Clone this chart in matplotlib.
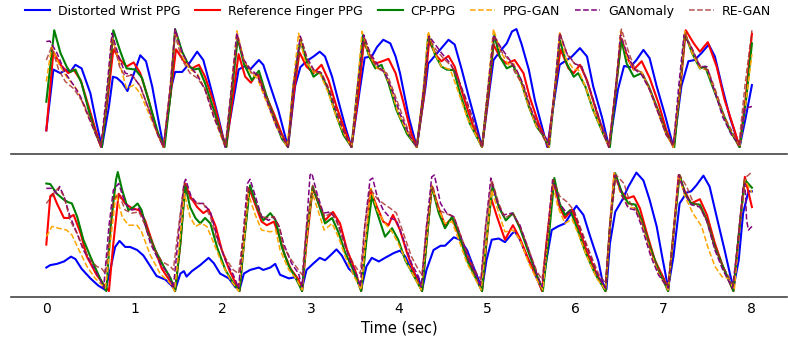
#!/usr/bin/env python3
"""
PPG reconstruction comparison: two wrist segments, 8 s each
"""

import matplotlib
matplotlib.use("Agg")
import matplotlib.pyplot as plt
import numpy as np

plt.rcParams['font.family'] = 'DejaVu Sans'

# (time in sec, normalised amplitude)
# ---- upper segment ----
wrist_top = [
    (0.00, 0.14), (0.08, 0.65), (0.16, 0.62), (0.22, 0.65), (0.27, 0.63), (0.33, 0.69), (0.40, 0.66), (0.50, 0.45), (0.56, 0.23), (0.63, 0.00),
    (0.71, 0.34), (0.755, 0.59), (0.80, 0.58), (0.86, 0.54), (0.92, 0.47), (1.01, 0.65), (1.065, 0.77), (1.13, 0.72), (1.20, 0.51), (1.27, 0.23), (1.33, 0.00),
    (1.42, 0.51), (1.46, 0.63), (1.54, 0.63), (1.61, 0.69), (1.71, 0.80), (1.78, 0.73), (1.86, 0.51), (1.95, 0.25), (2.03, 0.00),
    (2.12, 0.39), (2.18, 0.65), (2.25, 0.68), (2.31, 0.65), (2.41, 0.73), (2.46, 0.69), (2.54, 0.51), (2.63, 0.31), (2.74, 0.00),
    (2.82, 0.51), (2.88, 0.67), (2.95, 0.72), (3.03, 0.76), (3.10, 0.80), (3.16, 0.76), (3.24, 0.59), (3.31, 0.39), (3.39, 0.17), (3.46, 0.00),
    (3.56, 0.51), (3.61, 0.75), (3.69, 0.76), (3.75, 0.84), (3.82, 0.90), (3.90, 0.87), (3.96, 0.76), (4.01, 0.62), (4.11, 0.25), (4.20, 0.00),
    (4.30, 0.51), (4.33, 0.70), (4.41, 0.77), (4.48, 0.83), (4.56, 0.90), (4.63, 0.86), (4.71, 0.65), (4.79, 0.42), (4.86, 0.23), (4.94, 0.00),
    (5.03, 0.51), (5.07, 0.73), (5.14, 0.80), (5.22, 0.87), (5.28, 0.97), (5.33, 0.99), (5.39, 0.86), (5.47, 0.65), (5.54, 0.39), (5.62, 0.17), (5.68, 0.00),
    (5.77, 0.45), (5.82, 0.69), (5.88, 0.72), (5.96, 0.76), (6.05, 0.83), (6.13, 0.76), (6.20, 0.51), (6.30, 0.25), (6.38, 0.00),
    (6.48, 0.48), (6.55, 0.68), (6.62, 0.67), (6.69, 0.73), (6.77, 0.815), (6.84, 0.745), (6.92, 0.51), (7.01, 0.28), (7.11, 0.00),
    (7.20, 0.51), (7.28, 0.72), (7.35, 0.73), (7.43, 0.79), (7.51, 0.86), (7.58, 0.76), (7.66, 0.51), (7.75, 0.25), (7.86, 0.00),
    (7.93, 0.25), (8.00, 0.52)]

finger_top = [
    (0.00, 0.14), (0.08, 0.80), (0.16, 0.69), (0.25, 0.62), (0.31, 0.65), (0.39, 0.56), (0.48, 0.34), (0.56, 0.14), (0.62, 0.00),
    (0.69, 0.37), (0.76, 0.82), (0.84, 0.73), (0.91, 0.675), (0.99, 0.71), (1.065, 0.62), (1.16, 0.395), (1.25, 0.14), (1.33, 0.00),
    (1.405, 0.42), (1.47, 0.82), (1.56, 0.72), (1.65, 0.66), (1.73, 0.69), (1.80, 0.59), (1.90, 0.37), (1.99, 0.11), (2.04, 0.00),
    (2.115, 0.42), (2.18, 0.78), (2.255, 0.59), (2.32, 0.54), (2.39, 0.62), (2.48, 0.45), (2.58, 0.28), (2.67, 0.11), (2.74, 0.00),
    (2.80, 0.42), (2.87, 0.795), (2.95, 0.675), (3.03, 0.62), (3.12, 0.69), (3.20, 0.56), (3.29, 0.34), (3.39, 0.13), (3.46, 0.00),
    (3.54, 0.45), (3.60, 0.885), (3.67, 0.76), (3.73, 0.70), (3.81, 0.72), (3.88, 0.74), (3.96, 0.62), (4.05, 0.37), (4.14, 0.11), (4.20, 0.00),
    (4.28, 0.42), (4.34, 0.885), (4.43, 0.76), (4.48, 0.72), (4.56, 0.765), (4.63, 0.675), (4.73, 0.42), (4.84, 0.17), (4.94, 0.00),
    (5.01, 0.42), (5.07, 0.86), (5.15, 0.745), (5.22, 0.70), (5.31, 0.73), (5.41, 0.62), (5.48, 0.42), (5.58, 0.20), (5.64, 0.10), (5.69, 0.00),
    (5.77, 0.51), (5.83, 0.82), (5.92, 0.66), (5.98, 0.62), (6.05, 0.69), (6.13, 0.56), (6.22, 0.34), (6.32, 0.11), (6.38, 0.00),
    (6.46, 0.51), (6.52, 0.91), (6.60, 0.73), (6.66, 0.65), (6.75, 0.72), (6.84, 0.58), (6.94, 0.37), (7.03, 0.14), (7.11, 0.00),
    (7.19, 0.51), (7.25, 0.98), (7.34, 0.87), (7.41, 0.80), (7.50, 0.88), (7.60, 0.675), (7.69, 0.395), (7.79, 0.17), (7.86, 0.00),
    (7.93, 0.42), (8.00, 0.95)]

cp_top = [
    (0.00, 0.38), (0.09, 0.98), (0.16, 0.79), (0.23, 0.675), (0.27, 0.63), (0.33, 0.65), (0.40, 0.535), (0.48, 0.31), (0.56, 0.11), (0.63, 0.00),
    (0.69, 0.42), (0.76, 0.98), (0.84, 0.80), (0.91, 0.66), (1.01, 0.65), (1.085, 0.58), (1.18, 0.34), (1.27, 0.11), (1.34, 0.00),
    (1.405, 0.42), (1.46, 0.99), (1.54, 0.80), (1.62, 0.675), (1.68, 0.65), (1.73, 0.66), (1.80, 0.535), (1.90, 0.31), (1.99, 0.09), (2.04, 0.00),
    (2.10, 0.45), (2.17, 0.91), (2.24, 0.70), (2.33, 0.56), (2.41, 0.64), (2.50, 0.42), (2.60, 0.21), (2.67, 0.07), (2.74, 0.00),
    (2.80, 0.51), (2.88, 0.90), (2.95, 0.72), (3.03, 0.59), (3.10, 0.63), (3.18, 0.51), (3.28, 0.28), (3.37, 0.10), (3.46, 0.00),
    (3.53, 0.51), (3.59, 0.94), (3.66, 0.76), (3.73, 0.66), (3.80, 0.69), (3.88, 0.535), (3.97, 0.31), (4.09, 0.11), (4.20, 0.00),
    (4.28, 0.48), (4.33, 0.94), (4.41, 0.77), (4.48, 0.675), (4.54, 0.65), (4.62, 0.645), (4.69, 0.45), (4.80, 0.20), (4.94, 0.00),
    (5.01, 0.48), (5.08, 0.94), (5.14, 0.76), (5.22, 0.66), (5.29, 0.685), (5.37, 0.58), (5.47, 0.34), (5.56, 0.17), (5.64, 0.09), (5.70, 0.00),
    (5.77, 0.51), (5.82, 0.90), (5.90, 0.70), (5.98, 0.59), (6.03, 0.62), (6.11, 0.51), (6.20, 0.31), (6.32, 0.10), (6.39, 0.00),
    (6.46, 0.51), (6.52, 0.90), (6.58, 0.70), (6.66, 0.59), (6.75, 0.62), (6.83, 0.51), (6.94, 0.30), (7.03, 0.11), (7.12, 0.00),
    (7.19, 0.535), (7.24, 0.955), (7.32, 0.79), (7.41, 0.66), (7.47, 0.675), (7.54, 0.535), (7.64, 0.34), (7.75, 0.14), (7.86, 0.00),
    (7.93, 0.37), (8.00, 0.87)]

ppggan_top = [
    (0.00, 0.55), (0.06, 0.84), (0.14, 0.70), (0.23, 0.59), (0.35, 0.48), (0.46, 0.28), (0.56, 0.11), (0.62, 0.00),
    (0.69, 0.45), (0.74, 0.93), (0.82, 0.73), (0.91, 0.49), (0.99, 0.52), (1.065, 0.45), (1.18, 0.25), (1.27, 0.09), (1.33, 0.00),
    (1.405, 0.51), (1.46, 0.98), (1.54, 0.76), (1.63, 0.65), (1.71, 0.62), (1.80, 0.48), (1.90, 0.25), (1.99, 0.07), (2.03, 0.00),
    (2.10, 0.51), (2.16, 0.975), (2.24, 0.73), (2.32, 0.62), (2.39, 0.58), (2.50, 0.37), (2.61, 0.17), (2.73, 0.00),
    (2.80, 0.535), (2.86, 0.955), (2.93, 0.73), (3.03, 0.63), (3.10, 0.62), (3.20, 0.45), (3.29, 0.25), (3.39, 0.09), (3.46, 0.00),
    (3.53, 0.535), (3.58, 0.97), (3.66, 0.77), (3.75, 0.66), (3.82, 0.65), (3.90, 0.51), (3.99, 0.28), (4.11, 0.10), (4.20, 0.00),
    (4.28, 0.535), (4.33, 0.97), (4.40, 0.79), (4.48, 0.675), (4.58, 0.65), (4.67, 0.465), (4.78, 0.23), (4.94, 0.00),
    (5.01, 0.535), (5.07, 0.99), (5.15, 0.80), (5.24, 0.69), (5.30, 0.70), (5.37, 0.56), (5.47, 0.34), (5.56, 0.17), (5.64, 0.10), (5.70, 0.00),
    (5.77, 0.535), (5.82, 0.97), (5.89, 0.745), (5.98, 0.65), (6.03, 0.65), (6.11, 0.51), (6.20, 0.31), (6.32, 0.10), (6.38, 0.00),
    (6.46, 0.535), (6.51, 0.97), (6.58, 0.76), (6.66, 0.65), (6.75, 0.63), (6.84, 0.48), (6.94, 0.28), (7.03, 0.10), (7.11, 0.00),
    (7.19, 0.535), (7.24, 0.97), (7.32, 0.79), (7.41, 0.66), (7.49, 0.65), (7.56, 0.51), (7.67, 0.28), (7.79, 0.10), (7.86, 0.00),
    (7.93, 0.37), (8.00, 0.78)]

ganomaly_top = [
    (0.00, 0.885), (0.04, 0.89), (0.12, 0.79), (0.215, 0.62), (0.31, 0.52), (0.39, 0.42), (0.48, 0.25), (0.56, 0.11), (0.62, 0.00),
    (0.69, 0.51), (0.745, 0.955), (0.82, 0.76), (0.895, 0.62), (0.97, 0.605), (1.065, 0.51), (1.18, 0.28), (1.27, 0.09), (1.33, 0.00),
    (1.405, 0.51), (1.46, 0.99), (1.54, 0.79), (1.63, 0.675), (1.71, 0.605), (1.80, 0.48), (1.90, 0.25), (1.99, 0.09), (2.03, 0.00),
    (2.10, 0.51), (2.16, 0.955), (2.24, 0.73), (2.32, 0.65), (2.39, 0.605), (2.50, 0.39), (2.61, 0.17), (2.74, 0.00),
    (2.80, 0.51), (2.88, 0.93), (2.95, 0.76), (3.03, 0.65), (3.12, 0.62), (3.22, 0.45), (3.31, 0.25), (3.39, 0.10), (3.46, 0.00),
    (3.53, 0.51), (3.60, 0.94), (3.67, 0.79), (3.77, 0.675), (3.84, 0.62), (3.92, 0.48), (4.01, 0.28), (4.11, 0.11), (4.20, 0.00),
    (4.28, 0.51), (4.34, 0.93), (4.41, 0.86), (4.48, 0.79), (4.58, 0.70), (4.65, 0.605), (4.75, 0.42), (4.84, 0.23), (4.94, 0.00),
    (5.01, 0.51), (5.07, 0.94), (5.15, 0.84), (5.24, 0.745), (5.33, 0.65), (5.41, 0.52), (5.50, 0.31), (5.60, 0.14), (5.67, 0.07), (5.70, 0.02),
    (5.77, 0.535), (5.82, 0.955), (5.90, 0.79), (5.99, 0.70), (6.07, 0.675), (6.14, 0.535), (6.24, 0.31), (6.33, 0.09), (6.38, 0.00),
    (6.46, 0.535), (6.51, 0.94), (6.58, 0.79), (6.66, 0.66), (6.75, 0.605), (6.84, 0.48), (6.94, 0.28), (7.03, 0.10), (7.11, 0.02),
    (7.17, 0.51), (7.23, 0.94), (7.32, 0.83), (7.41, 0.675), (7.49, 0.675), (7.56, 0.51), (7.67, 0.25), (7.77, 0.10), (7.86, 0.02),
    (7.92, 0.325), (8.00, 0.34)]

regan_top = [
    (0.00, 0.73), (0.06, 0.84), (0.14, 0.65), (0.215, 0.55), (0.31, 0.49), (0.42, 0.37), (0.52, 0.20), (0.62, 0.00),
    (0.69, 0.42), (0.755, 0.90), (0.83, 0.675), (0.895, 0.59), (0.97, 0.605), (1.065, 0.51), (1.18, 0.28), (1.27, 0.10), (1.33, 0.00),
    (1.405, 0.48), (1.46, 0.94), (1.54, 0.73), (1.63, 0.62), (1.71, 0.58), (1.80, 0.49), (1.90, 0.28), (1.99, 0.10), (2.03, 0.00),
    (2.10, 0.48), (2.17, 0.92), (2.24, 0.72), (2.33, 0.62), (2.41, 0.605), (2.50, 0.42), (2.61, 0.20), (2.74, 0.00),
    (2.80, 0.48), (2.89, 0.91), (2.96, 0.73), (3.04, 0.63), (3.12, 0.62), (3.22, 0.465), (3.31, 0.27), (3.39, 0.10), (3.46, 0.00),
    (3.53, 0.48), (3.61, 0.91), (3.69, 0.73), (3.78, 0.65), (3.86, 0.62), (3.93, 0.48), (4.03, 0.28), (4.12, 0.11), (4.20, 0.00),
    (4.28, 0.48), (4.34, 0.91), (4.42, 0.815), (4.50, 0.745), (4.60, 0.675), (4.67, 0.56), (4.77, 0.37), (4.86, 0.17), (4.94, 0.00),
    (5.01, 0.48), (5.08, 0.92), (5.16, 0.80), (5.26, 0.72), (5.31, 0.63), (5.41, 0.51), (5.50, 0.30), (5.60, 0.13), (5.69, 0.00),
    (5.77, 0.48), (5.83, 0.94), (5.91, 0.77), (5.99, 0.70), (6.07, 0.675), (6.16, 0.48), (6.26, 0.25), (6.35, 0.09), (6.38, 0.00),
    (6.46, 0.51), (6.52, 0.99), (6.60, 0.80), (6.67, 0.66), (6.76, 0.62), (6.84, 0.49), (6.94, 0.30), (7.03, 0.11), (7.11, 0.00),
    (7.19, 0.51), (7.24, 0.955), (7.34, 0.79), (7.43, 0.66), (7.50, 0.65), (7.60, 0.45), (7.69, 0.25), (7.79, 0.11), (7.85, 0.00),
    (7.92, 0.51), (8.00, 0.98)]

# ---- lower segment ----
wrist_bot = [
    (0.00, 0.21), (0.045, 0.23), (0.12, 0.24), (0.20, 0.26), (0.28, 0.30), (0.33, 0.28), (0.40, 0.20), (0.50, 0.12), (0.59, 0.06), (0.67, 0.025),
    (0.725, 0.19), (0.78, 0.38), (0.83, 0.43), (0.895, 0.38), (0.95, 0.38), (1.03, 0.355), (1.10, 0.31), (1.18, 0.22), (1.25, 0.14), (1.35, 0.11), (1.42, 0.06), (1.46, 0.025),
    (1.52, 0.16), (1.56, 0.18), (1.59, 0.135), (1.65, 0.18), (1.745, 0.23), (1.84, 0.29), (1.90, 0.245), (1.97, 0.16), (2.07, 0.12), (2.14, 0.05), (2.19, 0.025),
    (2.24, 0.16), (2.31, 0.19), (2.41, 0.21), (2.46, 0.19), (2.54, 0.21), (2.595, 0.24), (2.65, 0.15), (2.75, 0.12), (2.82, 0.13), (2.90, 0.04),
    (2.95, 0.19), (3.03, 0.245), (3.10, 0.29), (3.16, 0.27), (3.22, 0.31), (3.29, 0.36), (3.35, 0.31), (3.43, 0.20), (3.50, 0.15), (3.57, 0.03),
    (3.63, 0.22), (3.69, 0.29), (3.77, 0.26), (3.84, 0.29), (3.94, 0.33), (4.01, 0.35), (4.07, 0.30), (4.14, 0.19), (4.22, 0.12), (4.26, 0.025),
    (4.31, 0.19), (4.39, 0.355), (4.47, 0.39), (4.52, 0.39), (4.62, 0.46), (4.69, 0.44), (4.77, 0.355), (4.84, 0.22), (4.90, 0.11), (4.94, 0.03),
    (4.99, 0.27), (5.05, 0.44), (5.13, 0.45), (5.20, 0.42), (5.28, 0.49), (5.31, 0.51), (5.37, 0.44), (5.45, 0.30), (5.52, 0.19), (5.58, 0.09), (5.62, 0.025),
    (5.67, 0.27), (5.73, 0.52), (5.80, 0.55), (5.88, 0.575), (5.94, 0.645), (6.01, 0.72), (6.09, 0.645), (6.16, 0.48), (6.26, 0.26), (6.31, 0.08), (6.35, 0.03),
    (6.39, 0.41), (6.45, 0.67), (6.53, 0.77), (6.60, 0.88), (6.69, 0.995), (6.77, 0.93), (6.84, 0.77), (6.92, 0.55), (6.99, 0.27), (7.05, 0.04),
    (7.11, 0.30), (7.18, 0.74), (7.26, 0.83), (7.31, 0.84), (7.37, 0.89), (7.45, 0.97), (7.52, 0.88), (7.60, 0.63), (7.69, 0.355), (7.75, 0.16), (7.79, 0.04),
    (7.85, 0.27), (7.90, 0.66), (7.96, 0.84), (8.00, 0.84)]

finger_bot = [
    (0.00, 0.40), (0.045, 0.80), (0.076, 0.82), (0.12, 0.74), (0.20, 0.62), (0.25, 0.62), (0.31, 0.645), (0.39, 0.49), (0.46, 0.30), (0.57, 0.15), (0.67, 0.05), (0.71, 0.015),
    (0.76, 0.41), (0.82, 0.82), (0.895, 0.74), (0.97, 0.70), (1.05, 0.685), (1.12, 0.60), (1.22, 0.38), (1.31, 0.20), (1.41, 0.09), (1.46, 0.015),
    (1.52, 0.41), (1.575, 0.905), (1.63, 0.80), (1.71, 0.71), (1.78, 0.66), (1.84, 0.69), (1.92, 0.55), (1.99, 0.355), (2.08, 0.18), (2.19, 0.015),
    (2.24, 0.41), (2.30, 0.865), (2.37, 0.73), (2.44, 0.59), (2.50, 0.56), (2.58, 0.59), (2.64, 0.47), (2.70, 0.32), (2.77, 0.20), (2.86, 0.11), (2.90, 0.015),
    (2.95, 0.41), (3.02, 0.865), (3.09, 0.74), (3.16, 0.60), (3.25, 0.67), (3.33, 0.575), (3.41, 0.355), (3.50, 0.19), (3.57, 0.015),
    (3.62, 0.41), (3.68, 0.84), (3.75, 0.71), (3.82, 0.59), (3.88, 0.56), (3.93, 0.645), (4.01, 0.52), (4.09, 0.33), (4.18, 0.15), (4.26, 0.015),
    (4.31, 0.41), (4.37, 0.88), (4.45, 0.70), (4.52, 0.56), (4.60, 0.62), (4.67, 0.49), (4.77, 0.30), (4.86, 0.15), (4.94, 0.015),
    (4.99, 0.41), (5.04, 0.79), (5.11, 0.63), (5.20, 0.44), (5.29, 0.56), (5.37, 0.45), (5.47, 0.27), (5.56, 0.135), (5.62, 0.015),
    (5.67, 0.41), (5.75, 0.935), (5.82, 0.71), (5.88, 0.62), (5.96, 0.69), (6.03, 0.55), (6.13, 0.34), (6.22, 0.19), (6.34, 0.015),
    (6.39, 0.55), (6.44, 0.99), (6.51, 0.85), (6.58, 0.78), (6.66, 0.80), (6.73, 0.70), (6.81, 0.49), (6.90, 0.27), (7.00, 0.12), (7.05, 0.015),
    (7.11, 0.49), (7.17, 0.975), (7.24, 0.84), (7.31, 0.74), (7.41, 0.775), (7.49, 0.645), (7.58, 0.41), (7.67, 0.22), (7.79, 0.015),
    (7.86, 0.55), (7.92, 0.96), (8.00, 0.71)]

cp_bot = [
    (0.00, 0.905), (0.045, 0.90), (0.12, 0.82), (0.20, 0.77), (0.25, 0.75), (0.29, 0.74), (0.35, 0.63), (0.42, 0.44), (0.50, 0.30), (0.59, 0.15), (0.68, 0.015),
    (0.73, 0.55), (0.79, 0.935), (0.81, 1.00), (0.86, 0.85), (0.93, 0.685), (0.99, 0.71), (1.035, 0.74), (1.08, 0.685), (1.14, 0.52), (1.235, 0.355), (1.33, 0.22), (1.41, 0.12), (1.46, 0.015),
    (1.52, 0.41), (1.575, 0.89), (1.63, 0.71), (1.69, 0.62), (1.745, 0.575), (1.80, 0.62), (1.86, 0.575), (1.935, 0.38), (2.03, 0.19), (2.12, 0.08), (2.19, 0.015),
    (2.24, 0.41), (2.31, 0.89), (2.39, 0.71), (2.46, 0.60), (2.54, 0.66), (2.60, 0.60), (2.67, 0.38), (2.75, 0.22), (2.82, 0.135), (2.90, 0.015),
    (2.95, 0.465), (3.02, 0.88), (3.09, 0.73), (3.16, 0.575), (3.24, 0.62), (3.31, 0.505), (3.39, 0.33), (3.48, 0.19), (3.57, 0.015),
    (3.63, 0.44), (3.69, 0.80), (3.77, 0.62), (3.84, 0.465), (3.92, 0.535), (3.99, 0.44), (4.07, 0.27), (4.16, 0.15), (4.26, 0.015),
    (4.31, 0.41), (4.37, 0.88), (4.45, 0.66), (4.52, 0.535), (4.60, 0.63), (4.67, 0.505), (4.77, 0.27), (4.86, 0.135), (4.94, 0.015),
    (4.99, 0.44), (5.06, 0.89), (5.13, 0.71), (5.21, 0.60), (5.29, 0.66), (5.37, 0.535), (5.47, 0.33), (5.56, 0.15), (5.63, 0.015),
    (5.69, 0.41), (5.76, 0.95), (5.82, 0.74), (5.88, 0.645), (5.94, 0.685), (6.01, 0.55), (6.11, 0.34), (6.22, 0.16), (6.34, 0.015),
    (6.39, 0.55), (6.45, 0.99), (6.53, 0.82), (6.60, 0.74), (6.68, 0.73), (6.75, 0.60), (6.85, 0.37), (6.94, 0.19), (7.05, 0.015),
    (7.11, 0.49), (7.18, 0.975), (7.24, 0.82), (7.31, 0.74), (7.41, 0.73), (7.49, 0.60), (7.58, 0.38), (7.67, 0.22), (7.79, 0.015),
    (7.86, 0.55), (7.92, 0.935), (8.00, 0.87)]

ppggan_bot = [
    (0.00, 0.465), (0.064, 0.55), (0.14, 0.535), (0.23, 0.52), (0.29, 0.48), (0.37, 0.355), (0.46, 0.22), (0.555, 0.12), (0.63, 0.066), (0.67, 0.04),
    (0.725, 0.41), (0.79, 0.82), (0.86, 0.63), (0.93, 0.56), (1.03, 0.56), (1.08, 0.505), (1.18, 0.31), (1.29, 0.16), (1.405, 0.08), (1.455, 0.015),
    (1.51, 0.41), (1.565, 0.82), (1.63, 0.63), (1.69, 0.55), (1.76, 0.575), (1.82, 0.55), (1.90, 0.41), (1.99, 0.245), (2.085, 0.11), (2.18, 0.015),
    (2.24, 0.41), (2.29, 0.82), (2.37, 0.645), (2.44, 0.52), (2.54, 0.505), (2.60, 0.52), (2.65, 0.355), (2.75, 0.19), (2.84, 0.11), (2.90, 0.025),
    (2.95, 0.44), (3.01, 0.84), (3.09, 0.66), (3.15, 0.52), (3.24, 0.575), (3.31, 0.465), (3.39, 0.30), (3.48, 0.15), (3.57, 0.025),
    (3.62, 0.44), (3.68, 0.865), (3.75, 0.685), (3.84, 0.575), (3.92, 0.505), (3.99, 0.41), (4.09, 0.245), (4.18, 0.12), (4.25, 0.025),
    (4.31, 0.44), (4.37, 0.89), (4.45, 0.685), (4.52, 0.575), (4.60, 0.59), (4.67, 0.45), (4.77, 0.245), (4.86, 0.12), (4.93, 0.025),
    (4.99, 0.44), (5.05, 0.85), (5.13, 0.66), (5.20, 0.505), (5.29, 0.52), (5.37, 0.44), (5.47, 0.245), (5.56, 0.11), (5.63, 0.025),
    (5.68, 0.41), (5.74, 0.905), (5.80, 0.71), (5.88, 0.575), (5.96, 0.61), (6.03, 0.49), (6.13, 0.30), (6.24, 0.12), (6.34, 0.025),
    (6.39, 0.55), (6.44, 0.99), (6.51, 0.82), (6.60, 0.71), (6.68, 0.70), (6.75, 0.575), (6.85, 0.34), (6.94, 0.16), (7.05, 0.025),
    (7.11, 0.49), (7.17, 0.975), (7.24, 0.80), (7.33, 0.66), (7.43, 0.55), (7.50, 0.38), (7.58, 0.22), (7.66, 0.135), (7.73, 0.12), (7.80, 0.025),
    (7.86, 0.55), (7.92, 0.935), (8.00, 0.83)]

ganomaly_bot = [
    (0.00, 0.865), (0.064, 0.865), (0.12, 0.82), (0.15, 0.88), (0.20, 0.80), (0.27, 0.63), (0.35, 0.49), (0.42, 0.355), (0.52, 0.23), (0.61, 0.11), (0.65, 0.04),
    (0.71, 0.55), (0.76, 0.85), (0.82, 0.905), (0.895, 0.74), (0.97, 0.685), (1.05, 0.70), (1.10, 0.62), (1.18, 0.41), (1.29, 0.245), (1.39, 0.15), (1.44, 0.04),
    (1.50, 0.49), (1.56, 0.905), (1.58, 0.94), (1.64, 0.80), (1.71, 0.74), (1.78, 0.74), (1.86, 0.67), (1.935, 0.465), (2.03, 0.27), (2.12, 0.15), (2.18, 0.04),
    (2.24, 0.55), (2.28, 0.905), (2.31, 0.94), (2.37, 0.80), (2.44, 0.63), (2.52, 0.60), (2.58, 0.63), (2.64, 0.55), (2.69, 0.41), (2.78, 0.245), (2.86, 0.16), (2.90, 0.05),
    (2.95, 0.55), (2.99, 0.975), (3.01, 0.99), (3.07, 0.82), (3.14, 0.66), (3.22, 0.67), (3.29, 0.60), (3.37, 0.44), (3.44, 0.27), (3.52, 0.15), (3.56, 0.05),
    (3.61, 0.55), (3.67, 0.935), (3.70, 0.95), (3.75, 0.80), (3.82, 0.685), (3.90, 0.62), (3.97, 0.60), (4.05, 0.44), (4.14, 0.245), (4.22, 0.135), (4.25, 0.05),
    (4.31, 0.55), (4.37, 0.96), (4.40, 0.975), (4.47, 0.74), (4.54, 0.66), (4.62, 0.63), (4.69, 0.49), (4.79, 0.27), (4.88, 0.135), (4.92, 0.05),
    (4.98, 0.55), (5.04, 0.95), (5.11, 0.755), (5.18, 0.645), (5.28, 0.66), (5.37, 0.56), (5.47, 0.355), (5.56, 0.16), (5.62, 0.05),
    (5.68, 0.465), (5.74, 0.935), (5.82, 0.74), (5.90, 0.66), (5.98, 0.685), (6.05, 0.535), (6.15, 0.34), (6.26, 0.135), (6.34, 0.04),
    (6.39, 0.55), (6.45, 0.975), (6.53, 0.80), (6.60, 0.70), (6.68, 0.685), (6.75, 0.55), (6.85, 0.31), (6.94, 0.15), (7.05, 0.04),
    (7.11, 0.49), (7.17, 0.975), (7.24, 0.82), (7.31, 0.73), (7.41, 0.71), (7.49, 0.59), (7.58, 0.355), (7.67, 0.19), (7.78, 0.04),
    (7.84, 0.41), (7.90, 0.88), (7.92, 0.905), (7.94, 0.60), (7.96, 0.52), (8.00, 0.55)]

regan_bot = [
    (0.00, 0.74), (0.064, 0.80), (0.10, 0.84), (0.14, 0.87), (0.20, 0.80), (0.27, 0.60), (0.35, 0.49), (0.42, 0.37), (0.50, 0.27), (0.57, 0.22), (0.63, 0.20), (0.67, 0.16),
    (0.71, 0.41), (0.76, 0.77), (0.82, 0.82), (0.895, 0.685), (0.97, 0.66), (1.05, 0.67), (1.12, 0.56), (1.22, 0.37), (1.31, 0.26), (1.405, 0.22), (1.44, 0.19),
    (1.50, 0.55), (1.565, 0.905), (1.63, 0.78), (1.71, 0.74), (1.78, 0.74), (1.86, 0.63), (1.935, 0.44), (2.03, 0.29), (2.12, 0.19), (2.18, 0.16),
    (2.24, 0.52), (2.29, 0.88), (2.37, 0.74), (2.44, 0.63), (2.52, 0.62), (2.58, 0.63), (2.64, 0.55), (2.69, 0.38), (2.78, 0.27), (2.86, 0.19), (2.90, 0.15),
    (2.95, 0.55), (3.02, 0.89), (3.09, 0.74), (3.16, 0.63), (3.24, 0.67), (3.31, 0.56), (3.39, 0.38), (3.48, 0.245), (3.56, 0.16),
    (3.61, 0.55), (3.67, 0.865), (3.75, 0.78), (3.82, 0.74), (3.90, 0.70), (3.97, 0.66), (4.05, 0.49), (4.14, 0.30), (4.22, 0.19), (4.26, 0.15),
    (4.31, 0.55), (4.38, 0.89), (4.45, 0.685), (4.52, 0.66), (4.62, 0.63), (4.69, 0.49), (4.79, 0.30), (4.88, 0.16), (4.93, 0.11),
    (4.98, 0.55), (5.05, 0.935), (5.13, 0.74), (5.20, 0.62), (5.29, 0.66), (5.37, 0.55), (5.47, 0.355), (5.56, 0.18), (5.62, 0.11),
    (5.68, 0.465), (5.75, 0.935), (5.82, 0.80), (5.90, 0.755), (5.98, 0.685), (6.05, 0.55), (6.15, 0.355), (6.26, 0.16), (6.34, 0.08),
    (6.39, 0.55), (6.46, 0.975), (6.55, 0.905), (6.62, 0.74), (6.69, 0.685), (6.77, 0.55), (6.86, 0.33), (6.96, 0.16), (7.05, 0.066),
    (7.11, 0.49), (7.18, 0.975), (7.26, 0.88), (7.33, 0.755), (7.41, 0.71), (7.49, 0.60), (7.58, 0.38), (7.67, 0.22), (7.79, 0.066),
    (7.86, 0.55), (7.92, 0.95), (8.00, 1.00)]

labels = ['Distorted Wrist PPG', 'Reference Finger PPG', 'CP-PPG', 'PPG-GAN', 'GANomaly', 'RE-GAN']
colors = ['blue', 'red', 'green', 'orange', 'purple', 'brown']
styles = ['-', '-', '-', '--', '--', '--']
widths = [1.5, 1.5, 1.5, 1.1, 1.1, 1.1]
alphas = [1.0, 1.0, 1.0, 1.0, 1.0, 0.8]
xticks = [0, 1, 2, 3, 4, 5, 6, 7, 8]


def plot_segments():
    fig = plt.figure(figsize=(7.88, 3.37), dpi=100)
    ax_top = fig.add_axes([0.014, 0.546, 0.985, 0.389])
    ax_bot = fig.add_axes([0.014, 0.119, 0.985, 0.424])

    top_series = [wrist_top, finger_top, cp_top, ppggan_top, ganomaly_top, regan_top]
    bot_series = [wrist_bot, finger_bot, cp_bot, ppggan_bot, ganomaly_bot, regan_bot]

    for ax, series in [(ax_top, top_series), (ax_bot, bot_series)]:
        for pts, lab, c, ls, lw, a in zip(series, labels, colors, styles, widths, alphas):
            arr = np.array(pts)
            ax.plot(arr[:, 0], arr[:, 1], color=c, linestyle=ls, linewidth=lw,
                    alpha=a, label=lab, solid_joinstyle='round',
                    dash_joinstyle='round')
        ax.set_xlim(-0.4, 8.4)
        ax.set_yticks([])
        ax.spines['left'].set_visible(False)
        ax.spines['right'].set_visible(False)
        for side in ['top', 'bottom']:
            ax.spines[side].set_color('#444444')
            ax.spines[side].set_linewidth(1.2)

    # the dividing line comes from the lower panel's top spine
    ax_top.set_ylim(-0.05, 1.05)
    ax_top.spines['top'].set_visible(False)
    ax_top.spines['bottom'].set_visible(False)
    ax_top.set_xticks([])

    ax_bot.set_ylim(-0.033, 1.149)
    ax_bot.set_xticks(xticks)
    ax_bot.set_xticklabels([str(t) for t in xticks], fontsize=10)
    ax_bot.tick_params(axis='x', length=0, pad=4)
    ax_bot.set_xlabel('Time (sec)', fontsize=10.5, labelpad=3)

    handles, labs = ax_top.get_legend_handles_labels()
    fig.legend(handles, labs, loc='upper center', bbox_to_anchor=(0.505, 1.02),
               ncol=6, frameon=False, fontsize=9, handlelength=2.0,
               handletextpad=0.6, columnspacing=1.2)

    fig.savefig('out.png', dpi=100)


if __name__ == "__main__":
    plot_segments()
